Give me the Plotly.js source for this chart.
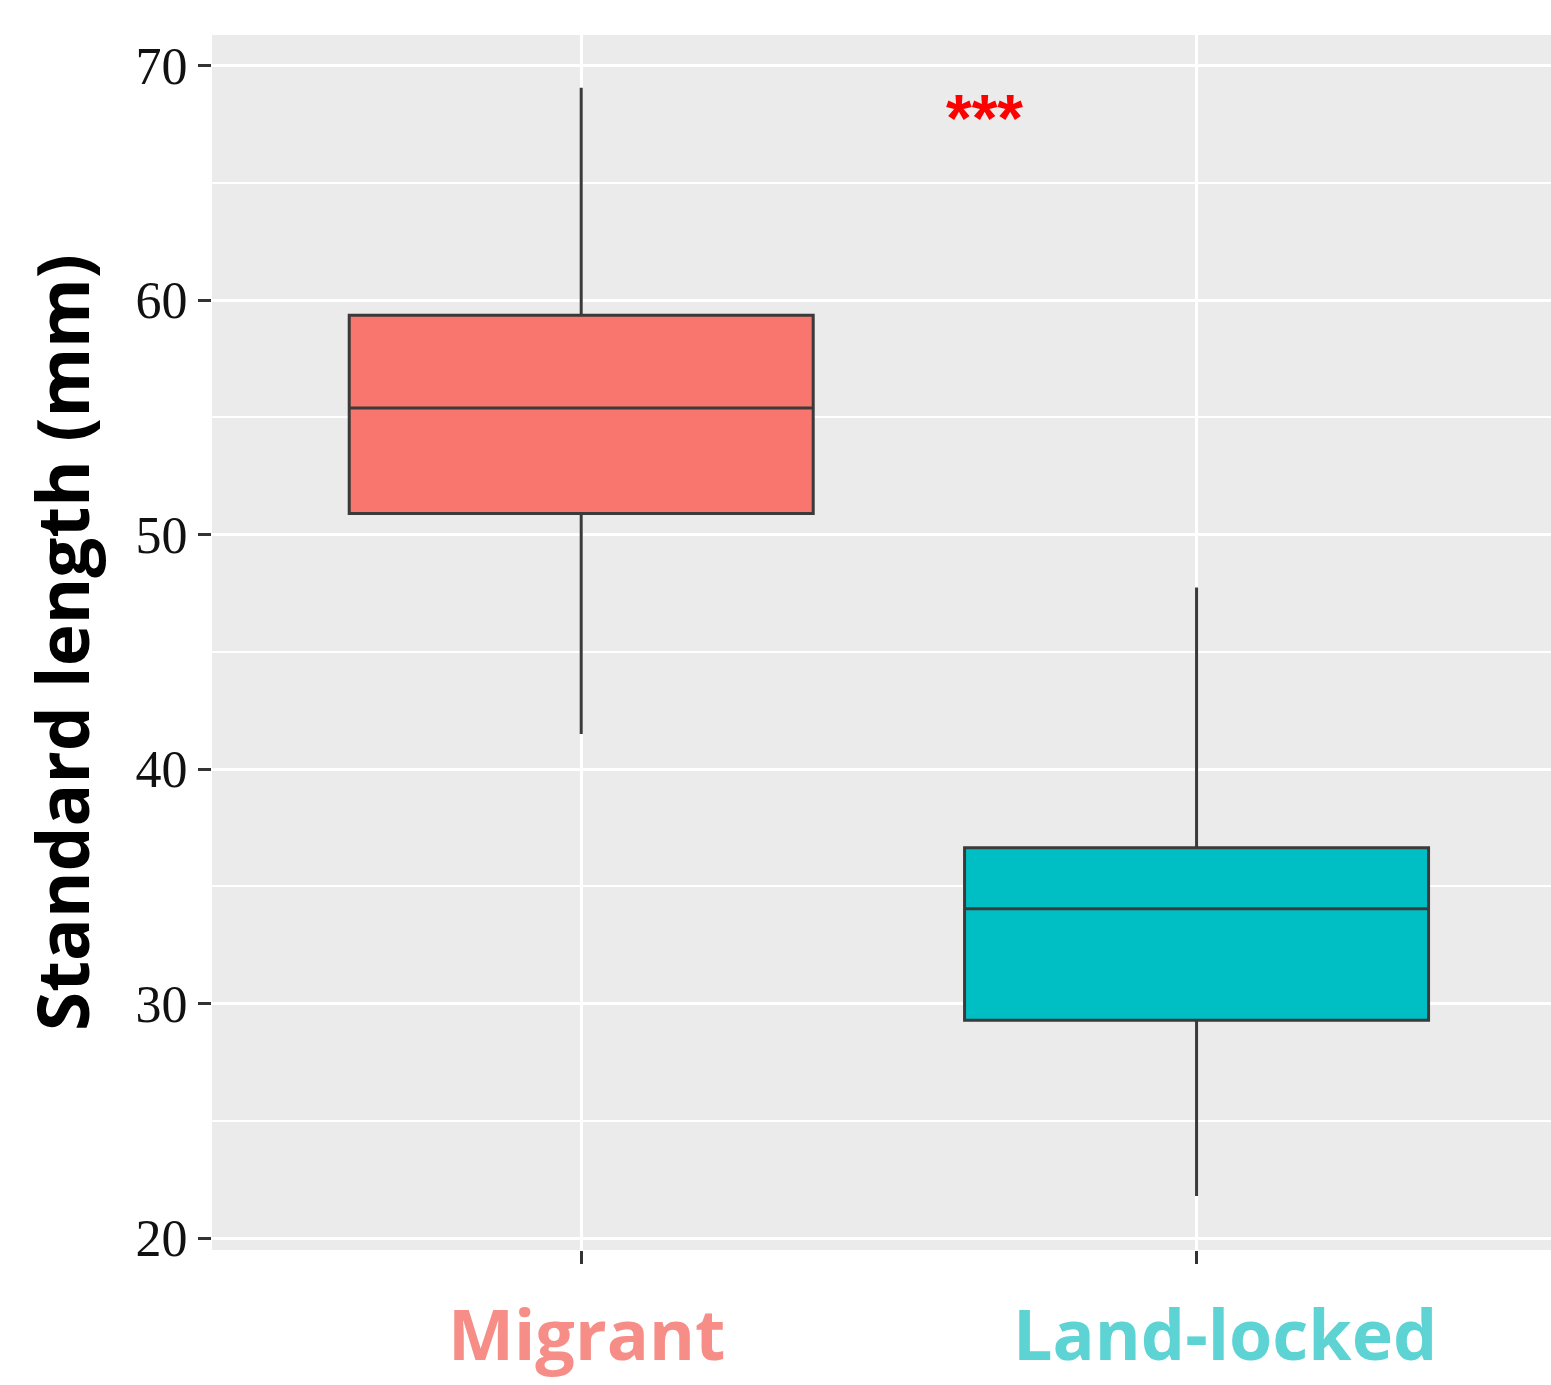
<!DOCTYPE html>
<html>
<head>
<meta charset="utf-8">
<script src="https://cdn.plot.ly/plotly-3.0.1.min.js"></script>
<style>html,body{margin:0;padding:0;background:#fff;}#chart{width:1551px;height:1385px;}</style>
</head>
<body>
<div id="chart"></div>
<script>
// Data
const categories = ["Migrant", "Land-locked"];
const lowerWhisker = [41.5, 21.8];
const q1Values = [50.9, 29.3];
const medians = [55.4, 34.05];
const q3Values = [59.35, 36.65];
const upperWhisker = [69.05, 47.75];
const boxColors = ["#F8766D", "#00BFC4"];
const labelColors = ["#F68E87", "#5ED3D4"];
const yTicks = [20, 30, 40, 50, 60, 70];
const significance = "***";

const traces = categories.map((c, i) => ({
  type: "box",
  x: [c],
  q1: [q1Values[i]],
  median: [medians[i]],
  q3: [q3Values[i]],
  lowerfence: [lowerWhisker[i]],
  upperfence: [upperWhisker[i]],
  fillcolor: boxColors[i],
  line: {color: "#3a3a3a", width: 3},
  whiskerwidth: 0,
  width: 0.754,
  boxpoints: false,
  showlegend: false,
  hoverinfo: "skip"
}));

const plotTop = 35, plotBottom = 1250;
const labelPixelY = 1383;
const labelPaperY = (plotBottom - labelPixelY) / (plotBottom - plotTop);

const annotations = [
  {x: 0.655, y: 67.75, xref: "x", yref: "y", text: "<b>" + significance + "</b>", showarrow: false,
   font: {family: "Liberation Sans, sans-serif", size: 66, color: "#FF0000"}, yanchor: "middle"},
  {x: categories[0], y: labelPaperY, xref: "x", yref: "paper", text: "<b>" + categories[0] + "</b>", showarrow: false, xshift: 5,
   font: {family: "Open Sans, sans-serif", size: 70, color: labelColors[0]}},
  {x: categories[1], y: labelPaperY, xref: "x", yref: "paper", text: "<b>" + categories[1] + "</b>", showarrow: false, xshift: 28,
   font: {family: "Open Sans, sans-serif", size: 70, color: labelColors[1]}}
];

const layout = {
  width: 1551, height: 1385,
  margin: {l: 212, r: 0, t: 35, b: 135, pad: 0},
  paper_bgcolor: "#FFFFFF",
  plot_bgcolor: "#EBEBEB",
  xaxis: {
    type: "category",
    range: [-0.6, 1.576],
    showticklabels: false,
    ticks: "outside", ticklen: 13, tickwidth: 3, tickcolor: "#333333",
    showgrid: true, gridcolor: "#FFFFFF", gridwidth: 3,
    zeroline: false, showline: false
  },
  yaxis: {
    range: [19.5, 71.3],
    tickvals: yTicks,
    ticktext: yTicks.map(String),
    ticks: "outside", ticklen: 13, tickwidth: 3, tickcolor: "#333333",
    tickfont: {family: "Liberation Serif, serif", size: 52, color: "#111111"},
    showgrid: true, gridcolor: "#FFFFFF", gridwidth: 3,
    minor: {dtick: 5, showgrid: true, gridcolor: "#FFFFFF", gridwidth: 2, ticks: ""},
    zeroline: false, showline: false,
    title: {text: "<b>Standard length (mm)</b>", standoff: 22,
            font: {family: "Open Sans, sans-serif", size: 71, color: "#000000"}}
  },
  annotations: annotations
};

Plotly.newPlot("chart", traces, layout, {staticPlot: true});
</script>
</body>
</html>
